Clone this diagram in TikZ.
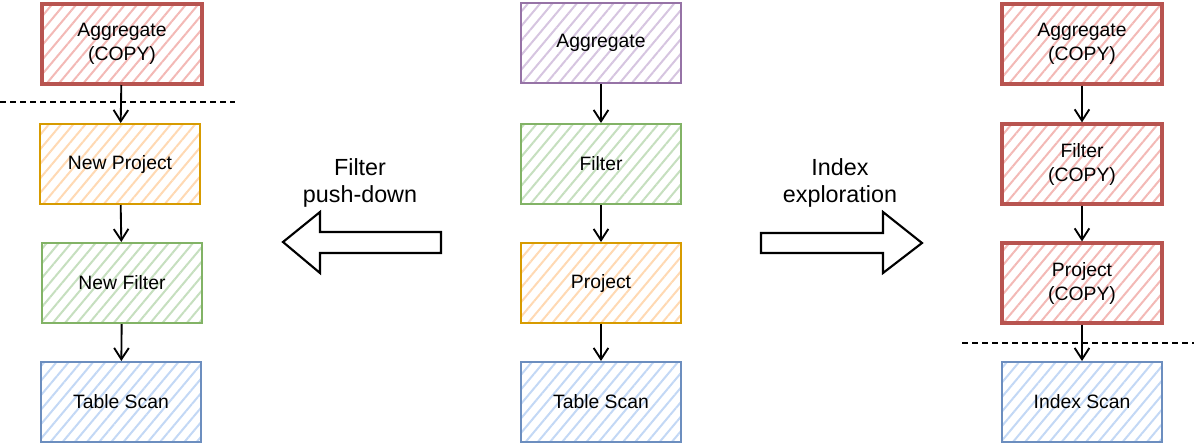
\documentclass[tikz,border=0pt]{standalone}
\usepackage{fontspec}
\setmainfont{Liberation Sans}
\usetikzlibrary{patterns.meta,arrows.meta}

\definecolor{redline}{HTML}{B85450}\definecolor{redfill}{HTML}{F3B9B6}
\definecolor{purpleline}{HTML}{9673A6}\definecolor{purplefill}{HTML}{D6C5E0}
\definecolor{greenline}{HTML}{82B366}\definecolor{greenfill}{HTML}{C6DFBF}
\definecolor{orangeline}{HTML}{D79B00}\definecolor{orangefill}{HTML}{FFD9B3}
\definecolor{blueline}{HTML}{6C8EBF}\definecolor{bluefill}{HTML}{C3D8F5}

\begin{document}
\begin{tikzpicture}[x=0.75pt,y=-0.75pt,
  op/.style={rectangle,minimum width=120pt,minimum height=60pt,align=center,
    line width=1.5pt,font=\fontsize{14.5}{18}\selectfont,inner sep=0pt},
  hatch/.style={pattern={Lines[angle=50,distance=7pt,line width=1.5pt]},pattern color=#1},
  redop/.style={op,draw=redline,line width=2.4pt,hatch=redfill},
  purpleop/.style={op,draw=purpleline,hatch=purplefill},
  greenop/.style={op,draw=greenline,hatch=greenfill},
  orangeop/.style={op,draw=orangeline,hatch=orangefill},
  blueop/.style={op,draw=blueline,hatch=bluefill},
  link/.style={-{Straight Barb[length=8.5pt,width=11pt]},line width=1.4pt},
  cut/.style={dash pattern=on 4.5pt off 3pt,line width=0.9pt},
  bigarrow/.style={draw,line width=1.6pt,fill=white,line join=miter},
  lbl/.style={align=center,font=\fontsize{17.5}{20}\selectfont}]
\useasboundingbox (0,0) rectangle (1204,444);

% Left plan (after filter push-down)
\node[redop] (laggr) at (122,44) {Aggregate\\(COPY)};
\node[orangeop] (lproj) at (120,164) {New Project};
\node[greenop] (lfilt) at (122,283) {New Filter};
\node[blueop] (lscan) at (121,402) {Table Scan};
\coordinate (lcutA) at (0,102);
\coordinate (lcutB) at (235,102);
\draw[cut] (lcutA) -- (lcutB);

% Original plan
\node[purpleop] (aggr) at (601,43) {Aggregate};
\node[greenop] (filt) at (601,164) {Filter};
\node[orangeop] (proj) at (601,283) {Project};
\node[blueop] (scan) at (601,402) {Table Scan};

% Right plan (after index exploration)
\node[redop] (raggr) at (1082,44) {Aggregate\\(COPY)};
\node[redop] (rfilt) at (1082,164) {Filter\\(COPY)};
\node[redop] (rproj) at (1082,283) {Project\\(COPY)};
\node[blueop] (rscan) at (1082,402) {Index Scan};
\coordinate (rcutA) at (962,343);
\coordinate (rcutB) at (1194,343);
\draw[cut] (rcutA) -- (rcutB);

% Arrows
\foreach \a/\b in {laggr/lproj,lproj/lfilt,lfilt/lscan,aggr/filt,filt/proj,proj/scan,raggr/rfilt,rfilt/rproj,rproj/rscan}
  \draw[link] (\a) -- (\b);

% Rewrites
\draw[bigarrow] (441,232) -- (320,232) -- (320,212) -- (283,242) -- (320,273) -- (320,253) -- (441,253) -- cycle;
\node[lbl] (pushlbl) at (360,183) {Filter\\push-down};
\draw[bigarrow] (761,233) -- (883,233) -- (883,212) -- (922,243) -- (883,273) -- (883,253) -- (761,253) -- cycle;
\node[lbl] (idxlbl) at (840,183) {Index\\exploration};
\end{tikzpicture}
\end{document}
